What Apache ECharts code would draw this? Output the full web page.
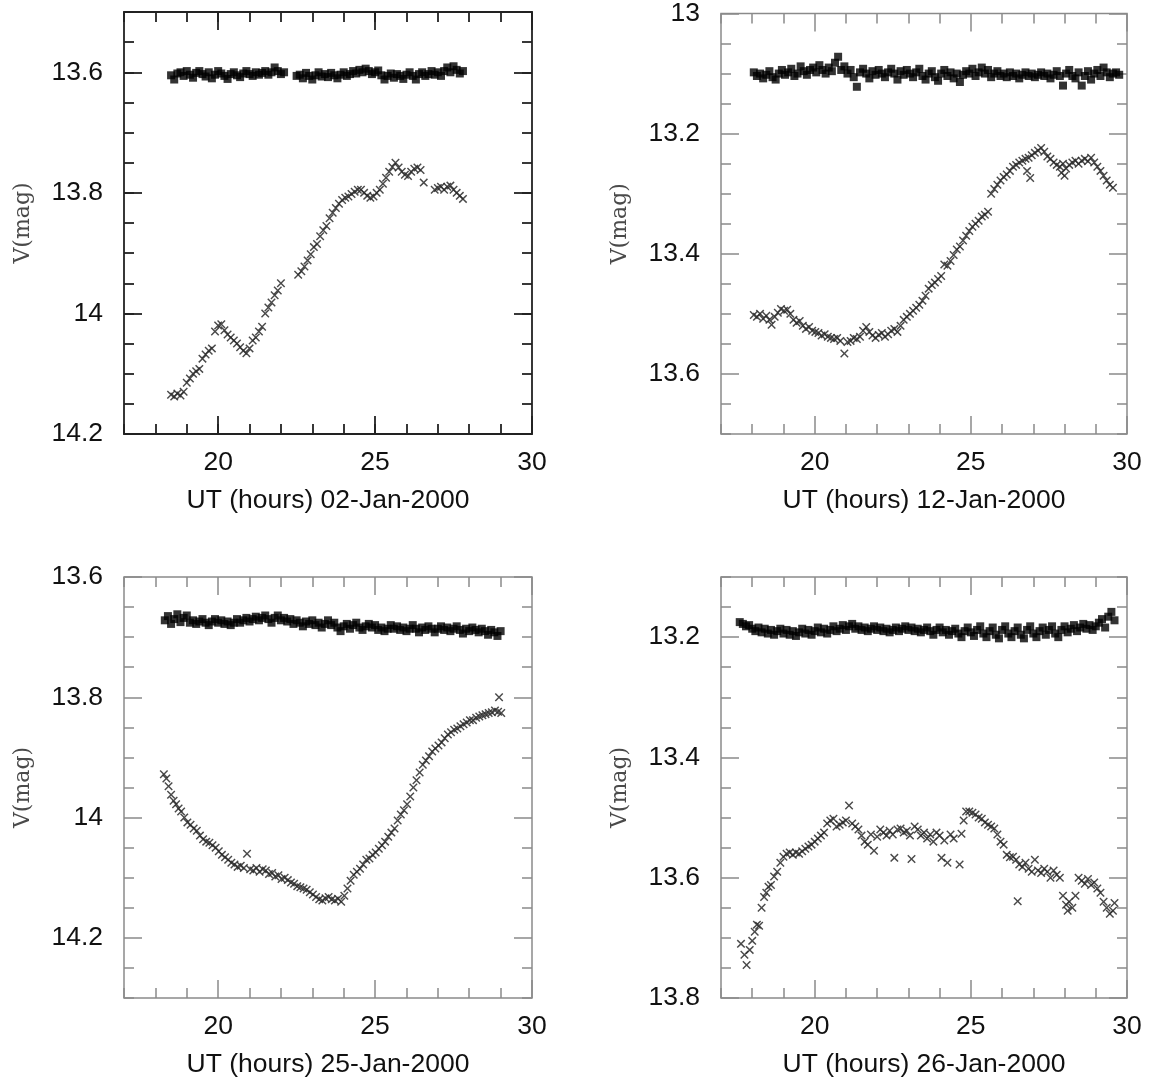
<!DOCTYPE html>
<html><head><meta charset="utf-8">
<script src="https://cdn.jsdelivr.net/npm/echarts@6/dist/echarts.min.js"></script>
<style>html,body{margin:0;padding:0;background:#fff}#c{width:1153px;height:1081px}</style>
</head><body><div id="c"></div>
<script>
// ---------- DATA ----------
const xTickLabels = [20, 25, 30];
const xMajorTicks = [20, 25, 30];
const dateLabels = ['02-Jan-2000', '12-Jan-2000', '25-Jan-2000', '26-Jan-2000'];
const yTickLabels1 = [13.6, 13.8, 14, 14.2];
const yTickLabels2 = [13, 13.2, 13.4, 13.6];
const yTickLabels3 = [13.6, 13.8, 14, 14.2];
const yTickLabels4 = [13.2, 13.4, 13.6, 13.8];
const yRange1 = [13.5, 14.2];
const yRange2 = [13.0, 13.7];
const yRange3 = [13.6, 14.3];
const yRange4 = [13.1, 13.8];
const xRange = [17, 30];

// comparison star (filled squares)
const cmp1 = [[18.5,13.605],[18.6,13.612],[18.7,13.602],[18.8,13.600],[18.9,13.606],[19.0,13.598],[19.1,13.604],[19.2,13.609],[19.3,13.601],[19.4,13.598],[19.5,13.603],[19.6,13.607],[19.7,13.600],[19.8,13.610],[19.9,13.604],[20.0,13.598],[20.1,13.602],[20.2,13.606],[20.3,13.611],[20.4,13.603],[20.5,13.600],[20.6,13.605],[20.7,13.608],[20.8,13.602],[20.9,13.598],[21.0,13.603],[21.1,13.606],[21.2,13.600],[21.3,13.604],[21.4,13.601],[21.5,13.598],[21.6,13.604],[21.7,13.600],[21.8,13.592],[21.9,13.598],[22.0,13.603],[22.1,13.600],
[22.5,13.606],[22.6,13.604],[22.7,13.610],[22.8,13.601],[22.9,13.606],[23.0,13.612],[23.1,13.605],[23.2,13.600],[23.3,13.607],[23.4,13.603],[23.5,13.608],[23.6,13.601],[23.7,13.605],[23.8,13.610],[23.9,13.604],[24.0,13.600],[24.1,13.606],[24.2,13.603],[24.3,13.598],[24.4,13.602],[24.5,13.596],[24.6,13.600],[24.7,13.594],[24.8,13.598],[24.9,13.603],[25.0,13.600],[25.1,13.597],[25.2,13.605],[25.3,13.612],[25.4,13.606],[25.5,13.602],[25.6,13.609],[25.7,13.603],[25.8,13.606],[25.9,13.611],[26.0,13.604],[26.1,13.600],[26.2,13.606],[26.3,13.612],[26.4,13.603],[26.5,13.600],[26.6,13.606],[26.7,13.603],[26.8,13.598],[26.9,13.604],[27.0,13.600],[27.1,13.606],[27.2,13.598],[27.3,13.592],[27.4,13.600],[27.5,13.590],[27.6,13.596],[27.7,13.602],[27.8,13.598]];

const cmp2 = [[18.05,13.098],[18.15,13.104],[18.25,13.100],[18.35,13.108],[18.45,13.102],[18.55,13.096],[18.65,13.106],[18.75,13.110],[18.85,13.100],[18.95,13.094],[19.05,13.102],[19.15,13.098],[19.25,13.092],[19.35,13.104],[19.45,13.100],[19.55,13.088],[19.65,13.096],[19.75,13.102],[19.85,13.094],[19.95,13.090],[20.05,13.098],[20.15,13.086],[20.25,13.094],[20.35,13.100],[20.45,13.090],[20.55,13.096],[20.65,13.082],[20.75,13.072],[20.85,13.094],[20.95,13.088],[21.05,13.100],[21.15,13.094],[21.25,13.106],[21.35,13.122],[21.45,13.098],[21.55,13.092],[21.65,13.100],[21.75,13.108],[21.85,13.096],[21.95,13.102],[22.05,13.094],[22.15,13.100],[22.25,13.106],[22.35,13.098],[22.45,13.092],[22.55,13.100],[22.65,13.110],[22.75,13.096],[22.85,13.102],[22.95,13.094],[23.05,13.100],[23.15,13.106],[23.25,13.098],[23.35,13.092],[23.45,13.104],[23.55,13.110],[23.65,13.100],[23.75,13.096],[23.85,13.106],[23.95,13.112],[24.05,13.100],[24.15,13.094],[24.25,13.104],[24.35,13.098],[24.45,13.108],[24.55,13.100],[24.65,13.114],[24.75,13.102],[24.85,13.096],[24.95,13.100],[25.05,13.092],[25.15,13.104],[25.25,13.098],[25.35,13.090],[25.45,13.100],[25.55,13.094],[25.65,13.106],[25.75,13.100],[25.85,13.096],[25.95,13.104],[26.05,13.100],[26.15,13.106],[26.25,13.098],[26.35,13.104],[26.45,13.100],[26.55,13.108],[26.65,13.102],[26.75,13.098],[26.85,13.104],[26.95,13.100],[27.05,13.106],[27.15,13.102],[27.25,13.098],[27.35,13.104],[27.45,13.100],[27.55,13.108],[27.65,13.102],[27.75,13.096],[27.85,13.104],[27.95,13.120],[28.05,13.100],[28.15,13.094],[28.25,13.104],[28.35,13.108],[28.45,13.098],[28.55,13.120],[28.65,13.104],[28.75,13.096],[28.85,13.110],[28.95,13.100],[29.05,13.094],[29.15,13.104],[29.25,13.090],[29.35,13.098],[29.45,13.106],[29.55,13.100],[29.65,13.098],[29.75,13.102]];

const cmp3 = [[18.3,13.672],[18.4,13.665],[18.5,13.678],[18.6,13.670],[18.7,13.662],[18.8,13.675],[18.9,13.668],[19.0,13.664],[19.1,13.676],[19.2,13.672],[19.3,13.678],[19.4,13.674],[19.5,13.670],[19.6,13.676],[19.7,13.680],[19.8,13.674],[19.9,13.670],[20.0,13.676],[20.1,13.672],[20.2,13.678],[20.3,13.674],[20.4,13.680],[20.5,13.676],[20.6,13.670],[20.7,13.676],[20.8,13.672],[20.9,13.668],[21.0,13.674],[21.1,13.670],[21.2,13.666],[21.3,13.672],[21.4,13.668],[21.5,13.664],[21.6,13.670],[21.7,13.676],[21.8,13.668],[21.9,13.664],[22.0,13.672],[22.1,13.668],[22.2,13.674],[22.3,13.670],[22.4,13.678],[22.5,13.672],[22.6,13.676],[22.7,13.682],[22.8,13.674],[22.9,13.678],[23.0,13.672],[23.1,13.680],[23.2,13.676],[23.3,13.684],[23.4,13.678],[23.5,13.672],[23.6,13.680],[23.7,13.676],[23.8,13.684],[23.9,13.690],[24.0,13.682],[24.1,13.678],[24.2,13.686],[24.3,13.680],[24.4,13.676],[24.5,13.684],[24.6,13.688],[24.7,13.682],[24.8,13.678],[24.9,13.684],[25.0,13.680],[25.1,13.688],[25.2,13.684],[25.3,13.690],[25.4,13.686],[25.5,13.680],[25.6,13.686],[25.7,13.682],[25.8,13.688],[25.9,13.684],[26.0,13.690],[26.1,13.686],[26.2,13.680],[26.3,13.686],[26.4,13.692],[26.5,13.684],[26.6,13.688],[26.7,13.682],[26.8,13.686],[26.9,13.692],[27.0,13.686],[27.1,13.682],[27.2,13.688],[27.3,13.684],[27.4,13.690],[27.5,13.686],[27.6,13.682],[27.7,13.688],[27.8,13.694],[27.9,13.686],[28.0,13.690],[28.1,13.684],[28.2,13.688],[28.3,13.692],[28.4,13.686],[28.5,13.690],[28.6,13.696],[28.7,13.688],[28.8,13.692],[28.9,13.698],[29.0,13.690]];

const cmp4 = [[17.6,13.175],[17.7,13.178],[17.8,13.182],[17.9,13.180],[18.0,13.186],[18.1,13.190],[18.2,13.184],[18.3,13.192],[18.4,13.186],[18.5,13.194],[18.6,13.188],[18.7,13.196],[18.8,13.190],[18.9,13.186],[19.0,13.194],[19.1,13.188],[19.2,13.196],[19.3,13.190],[19.4,13.198],[19.5,13.192],[19.6,13.186],[19.7,13.194],[19.8,13.188],[19.9,13.196],[20.0,13.190],[20.1,13.184],[20.2,13.192],[20.3,13.186],[20.4,13.194],[20.5,13.188],[20.6,13.182],[20.7,13.190],[20.8,13.186],[20.9,13.180],[21.0,13.188],[21.1,13.182],[21.2,13.178],[21.3,13.186],[21.4,13.182],[21.5,13.188],[21.6,13.184],[21.7,13.190],[21.8,13.186],[21.9,13.182],[22.0,13.188],[22.1,13.184],[22.2,13.190],[22.3,13.186],[22.4,13.192],[22.5,13.188],[22.6,13.184],[22.7,13.190],[22.8,13.186],[22.9,13.182],[23.0,13.188],[23.1,13.184],[23.2,13.190],[23.3,13.186],[23.4,13.192],[23.5,13.188],[23.6,13.184],[23.7,13.190],[23.8,13.196],[23.9,13.188],[24.0,13.184],[24.1,13.192],[24.2,13.188],[24.3,13.196],[24.4,13.190],[24.5,13.186],[24.6,13.194],[24.7,13.200],[24.8,13.190],[24.9,13.184],[25.0,13.192],[25.1,13.198],[25.2,13.188],[25.3,13.182],[25.4,13.194],[25.5,13.200],[25.6,13.190],[25.7,13.184],[25.8,13.196],[25.9,13.202],[26.0,13.188],[26.1,13.182],[26.2,13.194],[26.3,13.200],[26.4,13.190],[26.5,13.184],[26.6,13.196],[26.7,13.202],[26.8,13.188],[26.9,13.182],[27.0,13.194],[27.1,13.200],[27.2,13.190],[27.3,13.184],[27.4,13.196],[27.5,13.188],[27.6,13.182],[27.7,13.194],[27.8,13.200],[27.9,13.188],[28.0,13.182],[28.1,13.192],[28.2,13.186],[28.3,13.180],[28.4,13.190],[28.5,13.184],[28.6,13.178],[28.7,13.186],[28.8,13.180],[28.9,13.188],[29.0,13.182],[29.1,13.176],[29.2,13.170],[29.3,13.184],[29.4,13.166],[29.5,13.158],[29.6,13.172]];

// variable star (crosses)
const var1 = [[18.5,14.135],[18.6,14.138],[18.7,14.133],[18.8,14.136],[18.9,14.130],[19.0,14.115],[19.1,14.108],[19.2,14.100],[19.3,14.096],[19.4,14.092],[19.5,14.075],[19.6,14.068],[19.7,14.062],[19.8,14.058],[19.9,14.030],[20.0,14.020],[20.1,14.018],[20.2,14.028],[20.3,14.035],[20.4,14.040],[20.5,14.045],[20.6,14.050],[20.7,14.056],[20.8,14.062],[20.9,14.066],[21.0,14.058],[21.1,14.045],[21.2,14.040],[21.3,14.030],[21.4,14.022],[21.5,14.000],[21.6,13.990],[21.7,13.982],[21.8,13.970],[21.9,13.962],[22.0,13.950],
[22.55,13.936],[22.65,13.930],[22.75,13.922],[22.85,13.912],[22.95,13.902],[23.05,13.890],[23.15,13.885],[23.25,13.872],[23.35,13.862],[23.45,13.855],[23.55,13.842],[23.65,13.833],[23.75,13.825],[23.85,13.818],[23.95,13.812],[24.05,13.808],[24.15,13.806],[24.25,13.802],[24.35,13.798],[24.45,13.795],[24.55,13.795],[24.65,13.800],[24.75,13.805],[24.85,13.808],[24.95,13.806],[25.05,13.800],[25.15,13.795],[25.25,13.785],[25.35,13.775],[25.45,13.765],[25.55,13.757],[25.65,13.750],[25.75,13.758],[25.85,13.765],[25.95,13.770],[26.05,13.772],[26.15,13.765],[26.25,13.760],[26.35,13.758],[26.45,13.762],[26.55,13.783],[26.9,13.795],[27.0,13.792],[27.1,13.790],[27.2,13.795],[27.3,13.790],[27.4,13.788],[27.5,13.795],[27.6,13.800],[27.7,13.805],[27.8,13.810]];

const var2 = [[18.05,13.502],[18.15,13.505],[18.25,13.500],[18.35,13.508],[18.45,13.503],[18.55,13.510],[18.62,13.518],[18.72,13.505],[18.82,13.498],[18.92,13.492],[19.02,13.495],[19.12,13.493],[19.22,13.500],[19.32,13.510],[19.42,13.515],[19.52,13.512],[19.62,13.520],[19.72,13.525],[19.82,13.522],[19.92,13.528],[20.02,13.530],[20.12,13.532],[20.22,13.536],[20.32,13.534],[20.42,13.538],[20.52,13.540],[20.62,13.542],[20.72,13.540],[20.82,13.545],[20.95,13.566],[21.05,13.547],[21.15,13.545],[21.25,13.540],[21.35,13.542],[21.45,13.538],[21.55,13.528],[21.65,13.522],[21.75,13.530],[21.85,13.536],[21.95,13.540],[22.05,13.535],[22.15,13.532],[22.25,13.538],[22.35,13.534],[22.45,13.528],[22.55,13.525],[22.65,13.530],[22.75,13.520],[22.85,13.510],[22.95,13.505],[23.05,13.500],[23.15,13.495],[23.25,13.490],[23.35,13.485],[23.45,13.478],[23.55,13.470],[23.65,13.458],[23.75,13.452],[23.85,13.448],[23.95,13.442],[24.05,13.437],[24.15,13.418],[24.25,13.420],[24.35,13.412],[24.45,13.402],[24.55,13.393],[24.65,13.388],[24.75,13.378],[24.85,13.370],[24.95,13.362],[25.05,13.355],[25.15,13.350],[25.25,13.345],[25.35,13.338],[25.45,13.335],[25.55,13.330],[25.65,13.300],[25.75,13.292],[25.85,13.285],[25.95,13.278],[26.05,13.272],[26.15,13.268],[26.25,13.262],[26.35,13.255],[26.45,13.252],[26.55,13.248],[26.65,13.245],[26.75,13.242],[26.80,13.262],[26.85,13.240],[26.90,13.274],[26.95,13.236],[27.05,13.232],[27.15,13.228],[27.25,13.224],[27.35,13.230],[27.45,13.238],[27.55,13.242],[27.65,13.248],[27.75,13.252],[27.85,13.255],[27.90,13.265],[27.95,13.250],[28.00,13.270],[28.05,13.258],[28.15,13.252],[28.25,13.248],[28.35,13.245],[28.45,13.250],[28.55,13.245],[28.65,13.242],[28.75,13.246],[28.85,13.240],[28.95,13.248],[29.05,13.255],[29.15,13.262],[29.25,13.270],[29.35,13.278],[29.45,13.285],[29.55,13.290]];

const var3 = [[18.27,13.928],[18.35,13.935],[18.42,13.948],[18.50,13.962],[18.58,13.972],[18.66,13.978],[18.74,13.985],[18.82,13.990],[18.92,14.000],[19.02,14.008],[19.12,14.012],[19.22,14.018],[19.32,14.022],[19.42,14.030],[19.52,14.036],[19.62,14.040],[19.72,14.042],[19.82,14.046],[19.92,14.050],[20.02,14.056],[20.12,14.062],[20.22,14.066],[20.32,14.070],[20.42,14.075],[20.52,14.078],[20.62,14.082],[20.72,14.080],[20.82,14.084],[20.92,14.060],[21.02,14.086],[21.12,14.088],[21.22,14.084],[21.32,14.090],[21.42,14.086],[21.52,14.088],[21.62,14.094],[21.72,14.092],[21.82,14.098],[21.92,14.096],[22.02,14.102],[22.12,14.100],[22.22,14.104],[22.32,14.108],[22.42,14.110],[22.52,14.114],[22.62,14.116],[22.72,14.118],[22.82,14.120],[22.92,14.124],[23.02,14.128],[23.12,14.132],[23.22,14.136],[23.32,14.138],[23.42,14.134],[23.52,14.132],[23.62,14.136],[23.72,14.138],[23.82,14.135],[23.92,14.140],[24.02,14.130],[24.12,14.118],[24.22,14.105],[24.32,14.095],[24.42,14.090],[24.52,14.085],[24.62,14.078],[24.72,14.070],[24.82,14.068],[24.92,14.062],[25.02,14.058],[25.12,14.052],[25.22,14.046],[25.32,14.040],[25.42,14.032],[25.52,14.025],[25.62,14.018],[25.72,14.005],[25.82,13.995],[25.92,13.988],[26.02,13.978],[26.12,13.965],[26.22,13.950],[26.32,13.938],[26.42,13.925],[26.52,13.912],[26.62,13.905],[26.72,13.898],[26.82,13.890],[26.92,13.885],[27.02,13.880],[27.12,13.875],[27.22,13.868],[27.32,13.862],[27.42,13.858],[27.52,13.854],[27.62,13.852],[27.72,13.848],[27.82,13.845],[27.92,13.842],[28.02,13.838],[28.12,13.838],[28.22,13.834],[28.32,13.832],[28.42,13.830],[28.52,13.828],[28.62,13.826],[28.72,13.825],[28.82,13.822],[28.92,13.824],[28.95,13.800],[29.02,13.826]];

const var4 = [[17.64,13.710],[17.75,13.728],[17.82,13.745],[17.92,13.720],[18.00,13.705],[18.08,13.690],[18.15,13.678],[18.22,13.680],[18.30,13.650],[18.38,13.632],[18.45,13.625],[18.52,13.615],[18.60,13.612],[18.70,13.598],[18.80,13.590],[18.90,13.575],[19.00,13.565],[19.10,13.560],[19.20,13.558],[19.30,13.562],[19.40,13.558],[19.50,13.560],[19.60,13.556],[19.70,13.552],[19.80,13.548],[19.90,13.545],[20.00,13.540],[20.10,13.535],[20.20,13.530],[20.30,13.525],[20.40,13.510],[20.50,13.505],[20.60,13.502],[20.70,13.515],[20.80,13.512],[20.90,13.508],[21.00,13.505],[21.10,13.480],[21.20,13.510],[21.30,13.515],[21.40,13.520],[21.50,13.530],[21.60,13.540],[21.70,13.545],[21.80,13.528],[21.90,13.555],[22.00,13.532],[22.10,13.520],[22.20,13.525],[22.30,13.530],[22.40,13.522],[22.50,13.528],[22.55,13.567],[22.65,13.520],[22.75,13.518],[22.85,13.525],[22.95,13.522],[23.05,13.530],[23.10,13.569],[23.20,13.515],[23.30,13.520],[23.40,13.530],[23.50,13.525],[23.60,13.535],[23.70,13.528],[23.80,13.540],[23.90,13.525],[24.00,13.530],[24.06,13.567],[24.15,13.538],[24.25,13.575],[24.35,13.528],[24.45,13.535],[24.64,13.578],[24.70,13.527],[24.77,13.505],[24.85,13.490],[24.95,13.490],[25.05,13.492],[25.15,13.495],[25.25,13.500],[25.35,13.502],[25.45,13.508],[25.55,13.512],[25.65,13.515],[25.75,13.518],[25.85,13.528],[25.95,13.540],[26.05,13.545],[26.15,13.562],[26.25,13.566],[26.35,13.565],[26.45,13.570],[26.50,13.639],[26.55,13.578],[26.65,13.582],[26.75,13.575],[26.85,13.585],[26.95,13.590],[27.05,13.570],[27.15,13.588],[27.25,13.592],[27.35,13.585],[27.45,13.590],[27.55,13.600],[27.65,13.588],[27.75,13.595],[27.85,13.600],[27.95,13.630],[28.05,13.645],[28.10,13.655],[28.15,13.640],[28.25,13.650],[28.35,13.630],[28.45,13.600],[28.55,13.605],[28.65,13.610],[28.75,13.602],[28.85,13.612],[28.95,13.608],[29.05,13.618],[29.15,13.625],[29.25,13.640],[29.35,13.650],[29.45,13.660],[29.55,13.655],[29.60,13.642]];

// ---------- CHART ----------
const panels = [
  {date: dateLabels[0], yr: yRange1, yl: yTickLabels1, cmp: cmp1, vr: var1},
  {date: dateLabels[1], yr: yRange2, yl: yTickLabels2, cmp: cmp2, vr: var2},
  {date: dateLabels[2], yr: yRange3, yl: yTickLabels3, cmp: cmp3, vr: var3},
  {date: dateLabels[3], yr: yRange4, yl: yTickLabels4, cmp: cmp4, vr: var4}
];
const layout = [
  {left: 124, top: 12, width: 408, height: 422, color: '#222', lw: 1.8},
  {left: 721, top: 12, width: 406, height: 422, color: '#8a8a8a', lw: 1.5},
  {left: 124, top: 577, width: 408, height: 421, color: '#8a8a8a', lw: 1.5},
  {left: 721, top: 577, width: 406, height: 421, color: '#8a8a8a', lw: 1.5}
];
const SANS = '"Liberation Sans", Arial, Helvetica, sans-serif';
const CROSS = 'path://M0,1.2L1.2,0L5,3.8L8.8,0L10,1.2L6.2,5L10,8.8L8.8,10L5,6.2L1.2,10L0,8.8L3.8,5Z';
const fmt = v => String(Math.round(v * 100) / 100);

const grid = [], xAxis = [], yAxis = [], series = [];
panels.forEach((p, i) => {
  const L = layout[i];
  grid.push({left: L.left, top: L.top, width: L.width, height: L.height, show: true,
    borderColor: L.color, borderWidth: L.lw, backgroundColor: 'transparent'});
  const baseX = {type: 'value', gridIndex: i, min: xRange[0], max: xRange[1],
    splitLine: {show: false}, axisLine: {show: false}};
  const tickStyle = {color: L.color, width: L.lw};
  xAxis.push(Object.assign({}, baseX, {position: 'bottom', interval: 1,
    axisTick: {show: true, inside: true, length: 10, lineStyle: tickStyle},
    axisLabel: {show: true, customValues: xTickLabels, margin: 15, fontSize: 26.5,
      color: '#111', fontFamily: SANS, formatter: fmt},
    name: 'UT (hours) ' + p.date, nameLocation: 'middle', nameGap: 53,
    nameTextStyle: {fontSize: 26.5, color: '#111', fontFamily: SANS}}));
  xAxis.push(Object.assign({}, baseX, {position: 'bottom',
    axisTick: {show: true, inside: true, length: 18, customValues: xMajorTicks, lineStyle: tickStyle},
    axisLabel: {show: false}}));
  xAxis.push(Object.assign({}, baseX, {position: 'top', interval: 1,
    axisTick: {show: true, inside: true, length: 10, lineStyle: tickStyle},
    axisLabel: {show: false}}));
  xAxis.push(Object.assign({}, baseX, {position: 'top',
    axisTick: {show: true, inside: true, length: 18, customValues: xMajorTicks, lineStyle: tickStyle},
    axisLabel: {show: false}}));

  const baseY = {type: 'value', gridIndex: i, min: p.yr[0], max: p.yr[1], inverse: true,
    splitLine: {show: false}, axisLine: {show: false}};
  yAxis.push(Object.assign({}, baseY, {position: 'left', interval: 0.05,
    axisTick: {show: true, inside: true, length: 10, lineStyle: tickStyle},
    axisLabel: {show: true, customValues: p.yl, margin: 21, fontSize: 26.5,
      color: '#111', fontFamily: SANS, formatter: fmt},
    name: 'V(mag)', nameLocation: 'middle', nameGap: 90,
    nameTextStyle: {fontSize: 22, color: '#4a4a4a', fontFamily: '"DejaVu Serif", "Liberation Serif", serif'}}));
  yAxis.push(Object.assign({}, baseY, {position: 'left',
    axisTick: {show: true, inside: true, length: 18, customValues: p.yl, lineStyle: tickStyle},
    axisLabel: {show: false}}));
  yAxis.push(Object.assign({}, baseY, {position: 'right', interval: 0.05,
    axisTick: {show: true, inside: true, length: 10, lineStyle: tickStyle},
    axisLabel: {show: false}}));
  yAxis.push(Object.assign({}, baseY, {position: 'right',
    axisTick: {show: true, inside: true, length: 18, customValues: p.yl, lineStyle: tickStyle},
    axisLabel: {show: false}}));

  series.push({type: 'scatter', xAxisIndex: i * 4, yAxisIndex: i * 4, data: p.cmp,
    symbol: 'rect', symbolSize: 8, itemStyle: {color: '#000'}, silent: true});
  series.push({type: 'scatter', xAxisIndex: i * 4, yAxisIndex: i * 4, data: p.vr,
    symbol: CROSS, symbolSize: 8.5, itemStyle: {color: '#2a2a2a', opacity: 0.85}, silent: true});
});

const chart = echarts.init(document.getElementById('c'), null, {renderer: 'canvas'});
chart.setOption({animation: false, backgroundColor: '#fff', grid, xAxis, yAxis, series});
</script></body></html>
